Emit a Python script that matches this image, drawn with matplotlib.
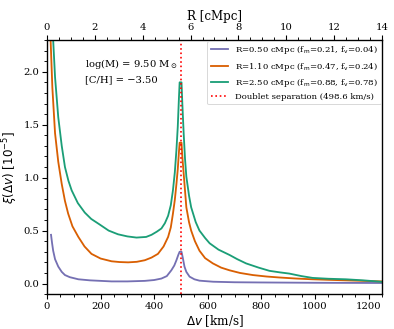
import matplotlib
matplotlib.use('Agg')
import matplotlib.pyplot as plt
import numpy as np
from matplotlib.ticker import MultipleLocator

plt.rcParams['font.family'] = ['DejaVu Serif']
plt.rcParams['mathtext.fontset'] = 'dejavusans'

# 速度差 [km/s] と相関関数 [1e-5]
v_r050 = [15, 19, 23, 30, 42, 55, 67, 85, 117, 160, 241, 300, 365, 400, 427, 447, 464,
          475, 483, 490, 495, 502, 507, 513, 520, 532, 550, 569, 620, 700, 800, 1000, 1250]
xi_r050 = [0.46, 0.38, 0.31, 0.23, 0.16, 0.11, 0.08, 0.06, 0.04, 0.03, 0.02, 0.02, 0.025,
           0.033, 0.047, 0.07, 0.125, 0.17, 0.22, 0.27, 0.30, 0.30, 0.24, 0.16, 0.11, 0.065,
           0.04, 0.027, 0.017, 0.012, 0.01, 0.007, 0.005]

v_r110 = [12, 20, 30, 42, 55, 67, 79, 95, 117, 140, 166, 200, 241, 270, 303, 335, 365, 390,
          414, 435, 452, 462, 470, 477, 483, 488, 492, 495, 502, 505, 510, 515, 520, 530, 538,
          552, 569, 590, 619, 650, 681, 720, 768, 820, 867, 930, 991, 1050, 1115, 1180, 1250]
xi_r110 = [2.40, 1.85, 1.42, 1.15, 0.94, 0.78, 0.66, 0.54, 0.44, 0.35, 0.28, 0.236, 0.21,
           0.203, 0.20, 0.205, 0.22, 0.245, 0.28, 0.35, 0.44, 0.53, 0.66, 0.79, 0.94, 1.08,
           1.23, 1.33, 1.33, 1.20, 1.04, 0.88, 0.72, 0.58, 0.50, 0.40, 0.31, 0.24, 0.19, 0.15,
           0.125, 0.10, 0.08, 0.066, 0.057, 0.047, 0.04, 0.035, 0.03, 0.025, 0.02]

v_r250 = [12, 22, 30, 42, 55, 67, 80, 92, 115, 141, 165, 195, 230, 265, 300, 334, 370, 390,
          410, 427, 440, 452, 462, 470, 477, 483, 488, 492, 495, 502, 505, 510, 515, 520, 530,
          538, 555, 569, 590, 607, 640, 681, 710, 743, 790, 830, 870, 904, 950, 991, 1050,
          1115, 1180, 1250]
xi_r250 = [3.2, 2.35, 1.95, 1.57, 1.30, 1.10, 0.97, 0.88, 0.76, 0.67, 0.61, 0.56, 0.50,
           0.465, 0.445, 0.434, 0.44, 0.46, 0.49, 0.52, 0.57, 0.64, 0.74, 0.88, 1.05, 1.26,
           1.48, 1.73, 1.90, 1.90, 1.70, 1.42, 1.18, 1.01, 0.83, 0.72, 0.58, 0.50, 0.43, 0.38,
           0.32, 0.27, 0.23, 0.19, 0.15, 0.12, 0.105, 0.094, 0.07, 0.053, 0.045, 0.04, 0.03,
           0.016]

labels = [r'R=0.50 cMpc (f$_{\rm m}$=0.21, f$_{\rm v}$=0.04)',
          r'R=1.10 cMpc (f$_{\rm m}$=0.47, f$_{\rm v}$=0.24)',
          r'R=2.50 cMpc (f$_{\rm m}$=0.88, f$_{\rm v}$=0.78)']
colors = ['#7570b3', '#d95f02', '#1b9e77']

doublet_sep = 498.6      # km/s
kms_per_cmpc = 1250 / 14  # 上軸 R [cMpc] 用の換算

fig = plt.figure(figsize=(6, 5), dpi=65.83)
ax = fig.add_axes([0.119, 0.106, 0.848, 0.772])

for v, xi, lab, c in zip([v_r050, v_r110, v_r250], [xi_r050, xi_r110, xi_r250], labels, colors):
    ax.plot(v, xi, color=c, lw=2, label=lab)
ax.axvline(doublet_sep, color='red', ls=':', lw=1.8,
           label=f'Doublet separation ({doublet_sep} km/s)')

ax.set_xlim(0, 1250)
ax.set_ylim(-0.1, 2.3)
ax.xaxis.set_major_locator(MultipleLocator(200))
ax.xaxis.set_minor_locator(MultipleLocator(50))
ax.yaxis.set_major_locator(MultipleLocator(0.5))
ax.yaxis.set_minor_locator(MultipleLocator(0.1))
ax.tick_params(which='major', labelsize=11, length=5, width=1.2)
ax.tick_params(which='minor', length=3, width=1.0)
for s in ax.spines.values():
    s.set_linewidth(1.5)
ax.set_xlabel(r'$\Delta v$ [km/s]', fontsize=13, labelpad=2)
ax.set_ylabel(r'$\xi(\Delta v)$ [$10^{-5}$]', fontsize=13)

top = ax.secondary_xaxis('top', functions=(lambda x: x / kms_per_cmpc,
                                           lambda r: r * kms_per_cmpc))
top.xaxis.set_major_locator(MultipleLocator(2))
top.xaxis.set_minor_locator(MultipleLocator(0.5))
top.tick_params(which='major', labelsize=11, length=5, width=1.2)
top.tick_params(which='minor', length=3, width=1.0)
top.set_xlabel('R [cMpc]', fontsize=13)

ax.text(0.113, 0.908, r'log(M) = 9.50 M$_\odot$', transform=ax.transAxes,
        fontsize=11, va='center')
ax.text(0.113, 0.843, '[C/H] = \u22123.50', transform=ax.transAxes,
        fontsize=11, va='center')

ax.legend(loc='upper right', fontsize=9.3, borderaxespad=0.1, handlelength=2)

fig.savefig('out.png', dpi=65.83)
